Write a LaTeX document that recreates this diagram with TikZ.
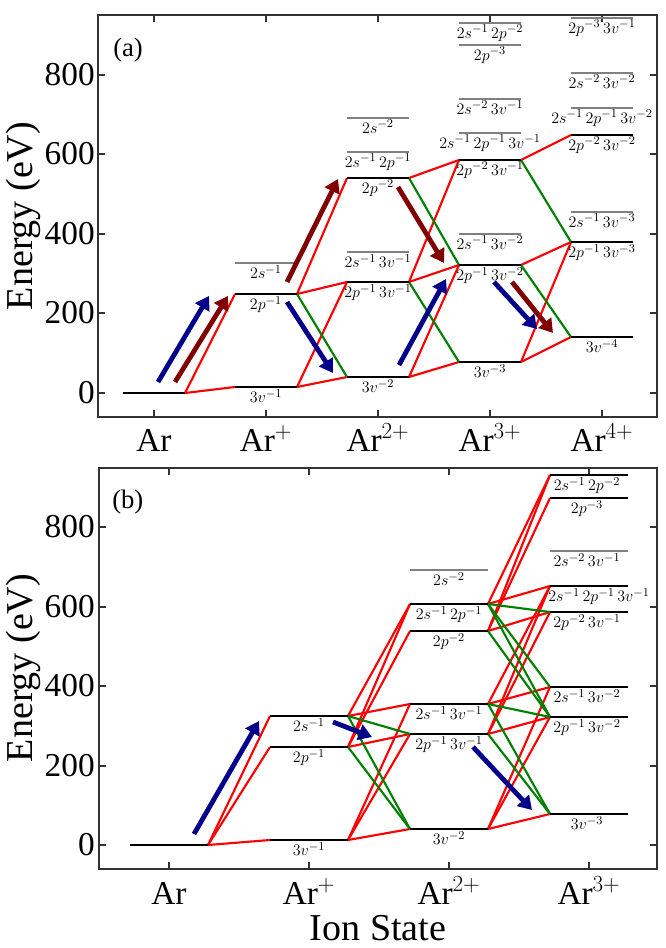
\documentclass[tikz,border=0pt]{standalone}
\usepackage[no-math]{fontspec}
\setmainfont{Liberation Serif}
\usetikzlibrary{arrows.meta,backgrounds}
\definecolor{lred}{RGB}{255,0,0}
\definecolor{lgreen}{RGB}{0,128,0}
\definecolor{lnavy}{RGB}{0,0,139}
\definecolor{lmaroon}{RGB}{128,0,0}
\definecolor{lgray}{RGB}{128,128,128}
\tikzset{
  lvl/.style={line width=2.2pt, black},
  glvl/.style={line width=2.2pt, lgray},
  ion/.style={line width=1.6pt, lred},
  aug/.style={line width=1.6pt, lgreen},
  barr/.style={line width=3.6pt, lnavy, -{Triangle[length=10pt,width=12pt]}},
  marr/.style={line width=3.6pt, lmaroon, -{Triangle[length=10pt,width=12pt]}},
  lab/.style={anchor=north, inner sep=0pt, font=\fontsize{12.5}{14}\selectfont},
  frame/.style={line width=1.1pt, black!80},
  tk/.style={line width=0.8pt, black!80},
  ticklab/.style={inner sep=0pt, font=\fontsize{25}{28}\selectfont},
  axlab/.style={inner sep=0pt, font=\fontsize{28.5}{32}\selectfont},
  panlab/.style={inner sep=0pt, anchor=base west, font=\fontsize{20}{24}\selectfont}
}
\newcommand{\mklevel}[7][0]{%
  \coordinate (#2L) at ({#3-#5},#4);
  \coordinate (#2R) at ({#3+#5},#4);
  \draw[#6] (#2L) -- (#2R);
  \node[lab] (#2T) at ({#3+#1},{#4+2}) {$#7$};
}
\begin{document}
\begin{tikzpicture}[x=0.75pt,y=-0.75pt]
\useasboundingbox (0,0) rectangle (665,948);

% ================= Panel (a) =================
\draw[frame] (98,15) rectangle (657,417);
\foreach \xx in {154,266,378,490,602} {
  \draw[tk] (\xx,15) -- (\xx,22);
  \draw[tk] (\xx,417) -- (\xx,410);
}
\foreach \yy/\tl in {393/0,313/200,234/400,154/600,75/800} {
  \draw[tk] (98,\yy) -- (105,\yy);
  \draw[tk] (657,\yy) -- (650,\yy);
  \node[ticklab, anchor=east] (ya\tl) at (95,\yy) {\tl};
}
\node[ticklab, anchor=base] (xa0) at (154,451) {Ar};
\node[ticklab, anchor=base] (xa1) at (266,451) {Ar$^{+}$};
\node[ticklab, anchor=base] (xa2) at (378,451) {Ar$^{2+}$};
\node[ticklab, anchor=base] (xa3) at (490,451) {Ar$^{3+}$};
\node[ticklab, anchor=base] (xa4) at (602,451) {Ar$^{4+}$};
\node[axlab, rotate=90, anchor=base] (yla) at (32,216) {Energy (eV)};
\node[panlab] (pa) at (113,57) {(a)};

% levels
\mklevel{A0}{154}{393}{31}{lvl}{}
\mklevel{A1v}{266}{387}{31}{lvl}{3v^{-1}}
\mklevel{A1p}{266}{294}{31}{lvl}{2p^{-1}}
\mklevel{A1s}{266}{263}{31}{glvl}{2s^{-1}}
\mklevel{A2vv}{378}{377}{31}{lvl}{3v^{-2}}
\mklevel{A2pv}{378}{282}{31}{lvl}{2p^{-1}\,3v^{-1}}
\mklevel{A2sv}{378}{252}{31}{glvl}{2s^{-1}\,3v^{-1}}
\mklevel{A2pp}{378}{178}{31}{lvl}{2p^{-2}}
\mklevel{A2sp}{378}{152}{31}{glvl}{2s^{-1}\,2p^{-1}}
\mklevel{A2ss}{378}{118}{31}{glvl}{2s^{-2}}
\mklevel{A3vvv}{490}{362}{31}{lvl}{3v^{-3}}
\mklevel{A3pvv}{490}{265}{31}{lvl}{2p^{-1}\,3v^{-2}}
\mklevel{A3svv}{490}{234}{31}{glvl}{2s^{-1}\,3v^{-2}}
\mklevel{A3ppv}{490}{160}{31}{lvl}{2p^{-2}\,3v^{-1}}
\mklevel{A3spv}{490}{133}{31}{glvl}{2s^{-1}\,2p^{-1}\,3v^{-1}}
\mklevel{A3ssv}{490}{99}{31}{glvl}{2s^{-2}\,3v^{-1}}
\mklevel{A3ppp}{490}{45}{31}{glvl}{2p^{-3}}
\mklevel{A3spp}{490}{23}{31}{glvl}{2s^{-1}\,2p^{-2}}
\mklevel{A4vvvv}{602}{337}{31}{lvl}{3v^{-4}}
\mklevel{A4pvvv}{602}{242}{31}{lvl}{2p^{-1}\,3v^{-3}}
\mklevel{A4svvv}{602}{212}{31}{glvl}{2s^{-1}\,3v^{-3}}
\mklevel{A4ppvv}{602}{135}{31}{lvl}{2p^{-2}\,3v^{-2}}
\mklevel{A4spvv}{602}{108}{31}{glvl}{2s^{-1}\,2p^{-1}\,3v^{-2}}
\mklevel{A4ssvv}{602}{73}{31}{glvl}{2s^{-2}\,3v^{-2}}
\mklevel{A4pppv}{602}{18}{31}{glvl}{2p^{-3}\,3v^{-1}}

\begin{pgfonlayer}{background}
\draw[ion] (A0R) -- (A1vL);
\draw[ion] (A0R) -- (A1pL);
\draw[ion] (A1vR) -- (A2vvL);
\draw[ion] (A1vR) -- (A2pvL);
\draw[ion] (A1pR) -- (A2pvL);
\draw[ion] (A1pR) -- (A2ppL);
\draw[aug] (A1pR) -- (A2vvL);
\draw[ion] (A2vvR) -- (A3vvvL);
\draw[ion] (A2vvR) -- (A3pvvL);
\draw[ion] (A2pvR) -- (A3pvvL);
\draw[ion] (A2pvR) -- (A3ppvL);
\draw[ion] (A2ppR) -- (A3ppvL);
\draw[aug] (A2pvR) -- (A3vvvL);
\draw[aug] (A2ppR) -- (A3pvvL);
\draw[ion] (A3vvvR) -- (A4vvvvL);
\draw[ion] (A3vvvR) -- (A4pvvvL);
\draw[ion] (A3pvvR) -- (A4pvvvL);
\draw[ion] (A3ppvR) -- (A4ppvvL);
\draw[aug] (A3pvvR) -- (A4vvvvL);
\draw[aug] (A3ppvR) -- (A4pvvvL);
\end{pgfonlayer}

% arrows (a)
\coordinate (ab1s) at (158,382); \coordinate (ab1e) at (209,296);
\coordinate (am1s) at (175,382); \coordinate (am1e) at (228,296);
\coordinate (ab2s) at (287,302); \coordinate (ab2e) at (333,373);
\coordinate (am2s) at (287,282); \coordinate (am2e) at (338,179);
\coordinate (am3s) at (398,187); \coordinate (am3e) at (444,263);
\coordinate (ab3s) at (399,365); \coordinate (ab3e) at (446,279);
\coordinate (ab4s) at (494,282); \coordinate (ab4e) at (537,329);
\coordinate (am4s) at (512,282); \coordinate (am4e) at (553,333);
\draw[barr] (ab1s) -- (ab1e);
\draw[marr] (am1s) -- (am1e);
\draw[barr] (ab2s) -- (ab2e);
\draw[marr] (am2s) -- (am2e);
\draw[marr] (am3s) -- (am3e);
\draw[barr] (ab3s) -- (ab3e);
\draw[barr] (ab4s) -- (ab4e);
\draw[marr] (am4s) -- (am4e);

% ================= Panel (b) =================
\draw[frame] (99,468) rectangle (657,869);
\foreach \xx in {169,309,449,589} {
  \draw[tk] (\xx,468) -- (\xx,475);
  \draw[tk] (\xx,869) -- (\xx,862);
}
\foreach \yy/\tl in {845/0,766/200,686/400,607/600,527/800} {
  \draw[tk] (99,\yy) -- (106,\yy);
  \draw[tk] (657,\yy) -- (650,\yy);
  \node[ticklab, anchor=east] (yb\tl) at (95,\yy) {\tl};
}
\node[ticklab, anchor=base] (xb0) at (169,904) {Ar};
\node[ticklab, anchor=base] (xb1) at (309,904) {Ar$^{+}$};
\node[ticklab, anchor=base] (xb2) at (449,904) {Ar$^{2+}$};
\node[ticklab, anchor=base] (xb3) at (589,904) {Ar$^{3+}$};
\node[axlab, rotate=90, anchor=base] (ylb) at (32,668) {Energy (eV)};
\node[axlab, anchor=base] (xlb) at (378,940) {Ion State};
\node[panlab] (pb) at (112,508) {(b)};

\mklevel{B0}{169}{845}{39}{lvl}{}
\mklevel{B1v}{309}{840}{39}{lvl}{3v^{-1}}
\mklevel{B1p}{309}{747}{39}{lvl}{2p^{-1}}
\mklevel{B1s}{309}{716}{39}{lvl}{2s^{-1}}
\mklevel{B2vv}{449}{829}{39}{lvl}{3v^{-2}}
\mklevel{B2pv}{449}{734}{39}{lvl}{2p^{-1}\,3v^{-1}}
\mklevel{B2sv}{449}{704}{39}{lvl}{2s^{-1}\,3v^{-1}}
\mklevel{B2pp}{449}{631}{39}{lvl}{2p^{-2}}
\mklevel{B2sp}{449}{604}{39}{lvl}{2s^{-1}\,2p^{-1}}
\mklevel{B2ss}{449}{570}{39}{glvl}{2s^{-2}}
\mklevel[-2]{B3vvv}{589}{814}{39}{lvl}{3v^{-3}}
\mklevel[-2]{B3pvv}{589}{717}{39}{lvl}{2p^{-1}\,3v^{-2}}
\mklevel[-2]{B3svv}{589}{687}{39}{lvl}{2s^{-1}\,3v^{-2}}
\mklevel[-2]{B3ppv}{589}{612}{39}{lvl}{2p^{-2}\,3v^{-1}}
\mklevel[10]{B3spv}{589}{586}{39}{lvl}{2s^{-1}\,2p^{-1}\,3v^{-1}}
\mklevel[-2]{B3ssv}{589}{551}{39}{glvl}{2s^{-2}\,3v^{-1}}
\mklevel[-2]{B3ppp}{589}{498}{39}{lvl}{2p^{-3}}
\mklevel[-2]{B3spp}{589}{475}{39}{lvl}{2s^{-1}\,2p^{-2}}

\begin{pgfonlayer}{background}
\draw[ion] (B0R) -- (B1vL);
\draw[ion] (B0R) -- (B1pL);
\draw[ion] (B0R) -- (B1sL);
\draw[ion] (B1vR) -- (B2vvL);
\draw[ion] (B1vR) -- (B2pvL);
\draw[ion] (B1vR) -- (B2svL);
\draw[ion] (B1pR) -- (B2pvL);
\draw[ion] (B1pR) -- (B2ppL);
\draw[ion] (B1pR) -- (B2spL);
\draw[ion] (B1sR) -- (B2svL);
\draw[ion] (B1sR) -- (B2spL);
\draw[aug] (B1pR) -- (B2vvL);
\draw[aug] (B1sR) -- (B2pvL);
\draw[aug] (B1sR) -- (B2vvL);
\draw[ion] (B2vvR) -- (B3vvvL);
\draw[ion] (B2vvR) -- (B3pvvL);
\draw[ion] (B2vvR) -- (B3svvL);
\draw[ion] (B2pvR) -- (B3pvvL);
\draw[ion] (B2pvR) -- (B3ppvL);
\draw[ion] (B2pvR) -- (B3spvL);
\draw[ion] (B2svR) -- (B3svvL);
\draw[ion] (B2svR) -- (B3spvL);
\draw[ion] (B2ppR) -- (B3ppvL);
\draw[ion] (B2ppR) -- (B3pppL);
\draw[ion] (B2ppR) -- (B3sppL);
\draw[ion] (B2spR) -- (B3spvL);
\draw[ion] (B2spR) -- (B3sppL);
\draw[aug] (B2pvR) -- (B3vvvL);
\draw[aug] (B2svR) -- (B3pvvL);
\draw[aug] (B2svR) -- (B3vvvL);
\draw[aug] (B2ppR) -- (B3pvvL);
\draw[aug] (B2spR) -- (B3ppvL);
\draw[aug] (B2spR) -- (B3pvvL);
\draw[aug] (B2spR) -- (B3svvL);
\end{pgfonlayer}

\coordinate (bb1s) at (194,834); \coordinate (bb1e) at (259,721);
\coordinate (bb2s) at (333,722); \coordinate (bb2e) at (372,737);
\coordinate (bb3s) at (473,747); \coordinate (bb3e) at (532,810);
\draw[barr] (bb1s) -- (bb1e);
\draw[barr] (bb2s) -- (bb2e);
\draw[barr] (bb3s) -- (bb3e);
\end{tikzpicture}
\end{document}
